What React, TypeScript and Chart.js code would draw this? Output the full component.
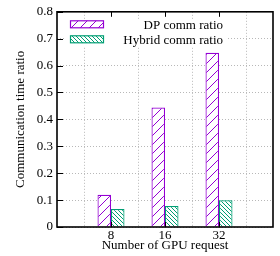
import React, { useEffect, useRef } from "react";
import { Chart, registerables } from "chart.js";

Chart.register(...registerables);

const categories = ["8", "16", "32"];
const dpRatio = [0.12, 0.444, 0.648];
const hybridRatio = [0.067, 0.078, 0.099];
const seriesNames = ["DP comm ratio", "Hybrid comm ratio"];
const yTicks = [0, 0.1, 0.2, 0.3, 0.4, 0.5, 0.6, 0.7, 0.8];

const PURPLE = "#9400d3";
const GREEN = "#009e73";
const FONT = "'Liberation Serif', 'DejaVu Serif', serif";

function makePattern(color: string, size: number, forward: boolean): CanvasPattern | string {
  const c = document.createElement("canvas");
  c.width = size;
  c.height = size;
  const ctx = c.getContext("2d");
  if (!ctx) return color;
  ctx.fillStyle = "#ffffff";
  ctx.fillRect(0, 0, size, size);
  ctx.strokeStyle = color;
  ctx.lineWidth = 1;
  ctx.beginPath();
  if (forward) {
    ctx.moveTo(-1, size + 1);
    ctx.lineTo(size + 1, -1);
  } else {
    ctx.moveTo(-1, -1);
    ctx.lineTo(size + 1, size + 1);
  }
  ctx.stroke();
  const p = ctx.createPattern(c, "repeat");
  return p || color;
}

const decorPlugin = {
  id: "decor",
  afterDatasetsDraw(chart: any) {
    const ctx = chart.ctx as CanvasRenderingContext2D;
    const area = chart.chartArea;
    ctx.save();
    // opaque key area
    ctx.fillStyle = "#ffffff";
    ctx.fillRect(area.left + 9, area.top + 8, 160, 27);
    const rows = [area.top + 12.5, area.top + 27.5];
    chart.data.datasets.forEach((ds: any, i: number) => {
      const y = rows[i];
      ctx.fillStyle = ds.backgroundColor;
      ctx.fillRect(area.left + 13, y - 3.5, 33, 7);
      ctx.strokeStyle = ds.borderColor;
      ctx.lineWidth = 1.2;
      ctx.strokeRect(area.left + 13.5, y - 3.5, 33, 7);
      ctx.fillStyle = "#000000";
      ctx.font = `13px ${FONT}`;
      ctx.textAlign = "right";
      ctx.textBaseline = "middle";
      ctx.fillText(seriesNames[i], area.left + 166, y + 1);
    });
    ctx.restore();
  },
  afterDraw(chart: any) {
    const ctx = chart.ctx as CanvasRenderingContext2D;
    const area = chart.chartArea;
    const ys = chart.scales.y;
    const xs = chart.scales.x;
    ctx.save();
    ctx.strokeStyle = "#000000";
    ctx.lineWidth = 1;
    ctx.beginPath();
    yTicks.forEach((v) => {
      const py = Math.round(ys.getPixelForValue(v)) + 0.5;
      ctx.moveTo(area.left, py);
      ctx.lineTo(area.left + 6, py);
    });
    categories.forEach((_, i) => {
      const px = Math.round(xs.getPixelForValue(i + 1)) + 0.5;
      ctx.moveTo(px, area.bottom);
      ctx.lineTo(px, area.bottom - 5);
      ctx.moveTo(px, area.top);
      ctx.lineTo(px, area.top + 5);
    });
    ctx.stroke();
    ctx.lineWidth = 1.6;
    ctx.strokeRect(area.left, area.top, area.right - area.left, area.bottom - area.top);
    ctx.restore();
  },
};

export default function App() {
  const ref = useRef<HTMLCanvasElement | null>(null);
  useEffect(() => {
    document.body.style.margin = "0";
    const canvas = ref.current;
    if (!canvas) return;
    const labels = ["", ...categories, ""];
    const chart = new Chart(canvas, {
      type: "bar",
      data: {
        labels,
        datasets: [
          {
            label: seriesNames[0],
            data: [null, ...dpRatio, null],
            backgroundColor: makePattern(PURPLE, 9, true) as any,
            borderColor: PURPLE,
            borderWidth: 1.2,
            categoryPercentage: 0.5,
            barPercentage: 1,
          },
          {
            label: seriesNames[1],
            data: [null, ...hybridRatio, null],
            backgroundColor: makePattern(GREEN, 4, false) as any,
            borderColor: GREEN,
            borderWidth: 1.2,
            categoryPercentage: 0.5,
            barPercentage: 1,
          },
        ],
      },
      options: {
        animation: false,
        responsive: false,
        devicePixelRatio: 1,
        layout: { padding: { top: 11, right: 7, left: 0, bottom: 0 } },
        plugins: { legend: { display: false }, tooltip: { enabled: false } },
        scales: {
          x: {
            type: "category",
            offset: false,
            grid: { color: "#b8b8b8", drawTicks: false, lineWidth: 1 },
            border: { display: false, dash: [1, 2] },
            ticks: { color: "#000", font: { family: FONT, size: 13 }, padding: 1, maxRotation: 0, autoSkip: false },
            title: {
              display: true,
              text: "Number of GPU request",
              color: "#000",
              font: { family: FONT, size: 13 },
              padding: { top: 0, bottom: 3 },
            },
            afterFit: (s: any) => {
              s.height = 29;
            },
          },
          y: {
            min: 0,
            max: 0.8,
            grid: { color: "#b8b8b8", drawTicks: false, lineWidth: 1 },
            border: { display: false, dash: [1, 2] },
            ticks: {
              stepSize: 0.1,
              color: "#000",
              padding: 4,
              font: { family: FONT, size: 13 },
              callback: (v: any) => String(Number(Number(v).toFixed(1))),
            },
            title: {
              display: true,
              text: "Communication time ratio",
              color: "#000",
              font: { family: FONT, size: 13 },
              padding: { top: 13, bottom: 0 },
            },
            afterFit: (s: any) => {
              s.width = 57;
            },
          },
        },
      },
      plugins: [decorPlugin],
    });
    return () => chart.destroy();
  }, []);
  return (
    <div style={{ width: 280, height: 256 }}>
      <canvas ref={ref} width={280} height={256} />
    </div>
  );
}
